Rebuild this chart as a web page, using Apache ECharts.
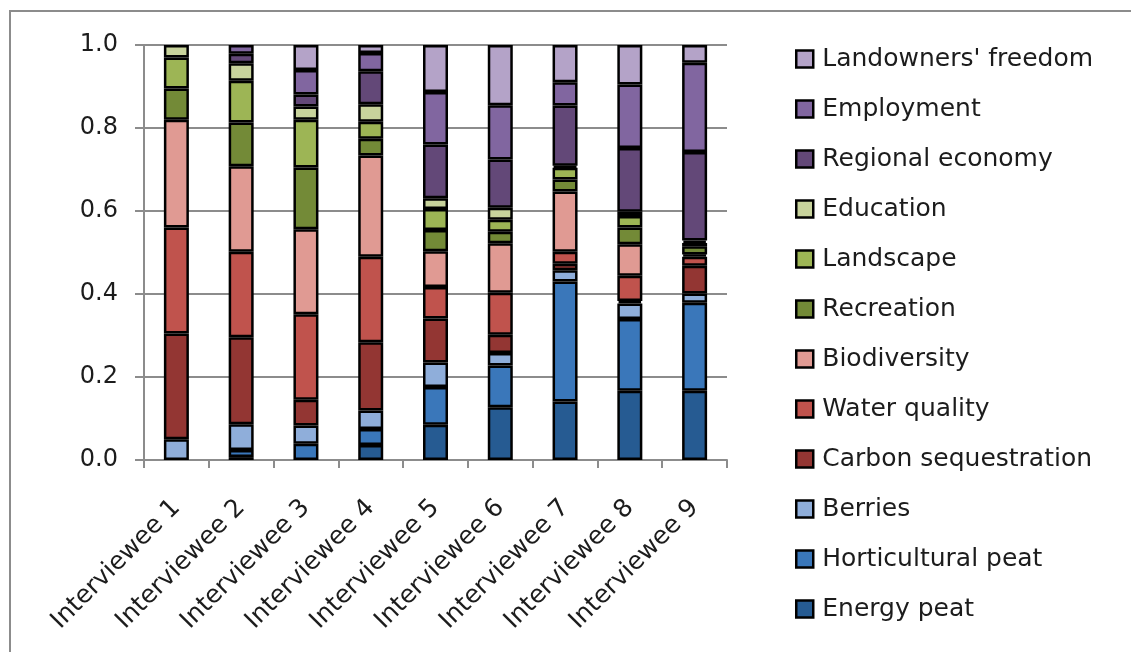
<!DOCTYPE html>
<html>
<head>
<meta charset="utf-8">
<script src="https://cdn.jsdelivr.net/npm/echarts@6/dist/echarts.min.js"></script>
<style>
  html, body { margin: 0; padding: 0; background: #fff; }
  #chart { width: 1131px; height: 652px; }
</style>
</head>
<body>
<div id="chart"></div>
<script>
// Share of importance given to each ecosystem service, per interviewee
const categories = ['Interviewee 1', 'Interviewee 2', 'Interviewee 3', 'Interviewee 4', 'Interviewee 5',
                    'Interviewee 6', 'Interviewee 7', 'Interviewee 8', 'Interviewee 9'];

const energyPeat       = [0,     0.007, 0,     0.036, 0.085, 0.127, 0.141, 0.167, 0.167];
const horticulturalPeat= [0,     0.017, 0.039, 0.039, 0.091, 0.101, 0.289, 0.173, 0.212];
const berries          = [0.050, 0.062, 0.044, 0.044, 0.059, 0.030, 0.027, 0.037, 0.022];
const carbonSeq        = [0.255, 0.210, 0.062, 0.165, 0.106, 0.044, 0.016, 0.006, 0.067];
const waterQuality     = [0.255, 0.206, 0.206, 0.206, 0.076, 0.101, 0.029, 0.061, 0.022];
const biodiversity     = [0.260, 0.206, 0.205, 0.244, 0.086, 0.119, 0.145, 0.076, 0.005];
const recreation       = [0.075, 0.105, 0.149, 0.040, 0.051, 0.028, 0.029, 0.040, 0.020];
const landscape        = [0.075, 0.101, 0.115, 0.041, 0.051, 0.029, 0.028, 0.028, 0.008];
const education        = [0.030, 0.042, 0.032, 0.042, 0.026, 0.029, 0.005, 0.010, 0.006];
const regionalEconomy  = [0,     0.023, 0.029, 0.080, 0.129, 0.116, 0.145, 0.154, 0.213];
const employment       = [0,     0.021, 0.059, 0.044, 0.127, 0.131, 0.056, 0.153, 0.215];
const landownersFreedom= [0,     0,     0.060, 0.019, 0.113, 0.145, 0.090, 0.095, 0.043];

const yTicks = [0, 0.2, 0.4, 0.6, 0.8, 1.0];

// stacking order, bottom to top
const layers = [
  { name: 'Energy peat',           data: energyPeat,        color: '#265B92' },
  { name: 'Horticultural peat',    data: horticulturalPeat, color: '#3A77BA' },
  { name: 'Berries',               data: berries,           color: '#8FAEDA' },
  { name: 'Carbon sequestration',  data: carbonSeq,         color: '#933633' },
  { name: 'Water quality',         data: waterQuality,      color: '#C0534D' },
  { name: 'Biodiversity',          data: biodiversity,      color: '#E09A93' },
  { name: 'Recreation',            data: recreation,        color: '#738A37' },
  { name: 'Landscape',             data: landscape,         color: '#9DB555' },
  { name: 'Education',             data: education,         color: '#C8D39C' },
  { name: 'Regional economy',      data: regionalEconomy,   color: '#634878' },
  { name: 'Employment',            data: employment,        color: '#8166A0' },
  { name: "Landowners' freedom",   data: landownersFreedom, color: '#B4A3C8' }
];

const FONT = 'DejaVu Sans';
const TEXT = '#1c1c1c';
const GRAY = '#8c8c8c';

const chart = echarts.init(document.getElementById('chart'), null, { renderer: 'canvas' });

chart.setOption({
  animation: false,
  backgroundColor: '#ffffff',
  textStyle: { fontFamily: FONT, color: TEXT },
  graphic: [{
    type: 'rect',
    shape: { x: 10, y: 11, width: 1140, height: 660 },
    style: { fill: null, stroke: GRAY, lineWidth: 2 },
    silent: true,
    z: -10
  }],
  grid: { left: 144, right: 404, top: 45, bottom: 192, containLabel: false },
  legend: {
    orient: 'vertical',
    left: 795,
    top: 44,
    padding: 0,
    itemWidth: 17,
    itemHeight: 17,
    itemGap: 20,
    icon: 'rect',
    data: layers.map(l => l.name).slice().reverse(),
    itemStyle: { borderColor: '#000', borderWidth: 2.5 },
    textStyle: { fontFamily: FONT, fontSize: 25, color: TEXT, lineHeight: 30, padding: [0, 0, 0, 4] },
    selectedMode: false
  },
  xAxis: {
    type: 'category',
    data: categories,
    axisLine: { show: true, lineStyle: { color: GRAY, width: 2 } },
    axisTick: { show: true, length: 8, lineStyle: { color: GRAY, width: 2 } },
    axisLabel: { rotate: 45, fontFamily: FONT, fontSize: 25, color: TEXT, margin: 44, interval: 0 },
    splitLine: { show: false }
  },
  yAxis: {
    type: 'value',
    min: yTicks[0],
    max: yTicks[yTicks.length - 1],
    interval: 0.2,
    axisLine: { show: true, lineStyle: { color: GRAY, width: 2 } },
    axisTick: { show: true, length: 9, lineStyle: { color: GRAY, width: 2 } },
    axisLabel: { fontFamily: FONT, fontSize: 24, color: TEXT, margin: 26,
                 formatter: v => v.toFixed(1) },
    splitLine: { show: true, lineStyle: { color: GRAY, width: 2 } }
  },
  series: layers.map(l => ({
    name: l.name,
    type: 'bar',
    stack: 'share',
    barWidth: 25,
    data: l.data.map(v => (v === 0 ? null : v)),
    itemStyle: { color: l.color, borderColor: '#000', borderWidth: 2.5 },
    emphasis: { disabled: true }
  }))
});
</script>
</body>
</html>
